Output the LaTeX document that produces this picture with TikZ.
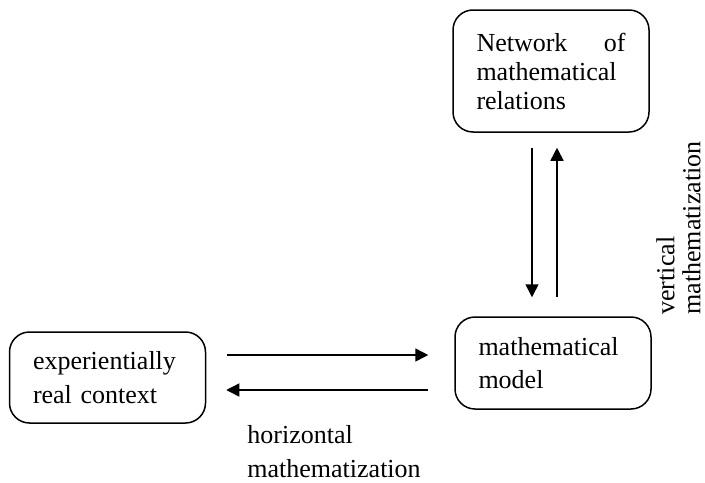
\documentclass[tikz,border=0pt]{standalone}
\usepackage{fontspec}
\setmainfont{Liberation Serif}
\usetikzlibrary{arrows.meta}

\begin{document}
\begin{tikzpicture}[x=0.5pt, y=-0.5pt,
    box/.style={draw, line width=0.75pt, rounded corners=10pt, text width=74.5pt, align=left, inner xsep=11.75pt, font=\fontsize{13pt}{14.5pt}\selectfont},
    arr/.style={line width=0.75pt, -{Triangle[length=6.5pt, width=6.5pt]}},
    lbl/.style={inner sep=0pt, align=left, font=\fontsize{13pt}{17pt}\selectfont}]
    \useasboundingbox (0,0) rectangle (705,482);

    % Define boxes
    \node[box, minimum height=61pt] (net) at (551,71) {Network \hfill of\\ mathematical\\ relations};
    \node[box, minimum height=45.5pt, font=\fontsize{13pt}{17pt}\selectfont] (ctx) at (107.5,377.5) {experientially\\ real context};
    \node[box, minimum height=46pt, font=\fontsize{13pt}{16.5pt}\selectfont] (model) at (553,363) {mathematical\\ model};

    % Labels
    \node[lbl, anchor=north west] (hlbl) at (247,425) {horizontal\\ mathematization};
    \node[lbl, rotate=90, anchor=south west, font=\fontsize{13pt}{13pt}\selectfont] (vlbl) at (701,315) {vertical\\ mathematization};

    % Draw arrows
    \draw[arr, shorten <=10.5pt, shorten >=13pt] (ctx.east |- 0,355) -- (model.west |- 0,355);
    \draw[arr, shorten <=13pt, shorten >=10pt] (model.west |- 0,390) -- (ctx.east |- 0,390);
    \draw[arr, shorten <=7.5pt, shorten >=9.5pt] (net.south -| 532,0) -- (model.north -| 532,0);
    \draw[arr, shorten <=9.5pt, shorten >=7.5pt] (model.north -| 557,0) -- (net.south -| 557,0);
\end{tikzpicture}
\end{document}
